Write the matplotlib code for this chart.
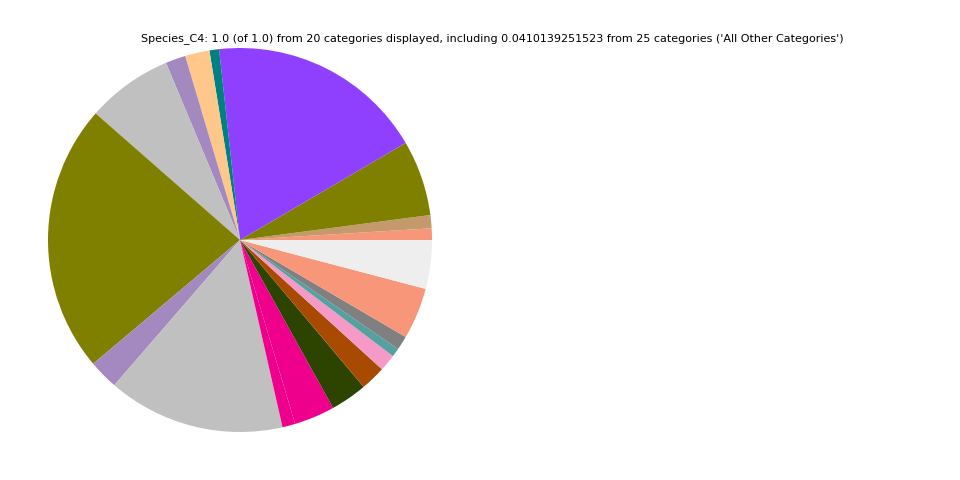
import matplotlib
matplotlib.use("Agg")
import matplotlib.pyplot as plt

# slice shares, in drawing order (counter-clockwise from 3 o'clock)
categories = ["C%d" % (i + 1) for i in range(19)] + ["All Other Categories"]
shares = [0.0097, 0.0111, 0.0636, 0.1831, 0.0081, 0.0206, 0.0169, 0.0725,
          0.2261, 0.0250, 0.1492, 0.0108, 0.0342, 0.0308, 0.0211, 0.0142,
          0.0072, 0.0119, 0.0433, 0.0410139251523]
colors = ["#f8967a", "#c49a6c", "#808000", "#8f40ff", "#008080", "#ffc78a",
          "#a389c0", "#c0c0c0", "#808000", "#a389c0", "#c0c0c0", "#ee008c",
          "#ee008c", "#2d4300", "#a84b00", "#f59ac6", "#55a0a0", "#808080",
          "#f8967a", "#eeeeee"]

title = ("Species_C4: 1.0 (of 1.0) from 20 categories displayed, including "
         "0.0410139251523 from 25 categories ('All Other Categories')")

fig = plt.figure(figsize=(9.6, 4.8), dpi=100)
ax = fig.add_axes([0.05, 0.1, 0.4, 0.8])
ax.pie(shares, colors=colors, startangle=0, counterclock=True)
ax.set_xlim(-1, 1)
ax.set_ylim(-1, 1)
ax.set_aspect("equal")
ax.axis("off")

fig.text(492 / 960, 1 - 39 / 480, title, ha="center", va="center", fontsize=8)

fig.savefig("out.png", dpi=100)
